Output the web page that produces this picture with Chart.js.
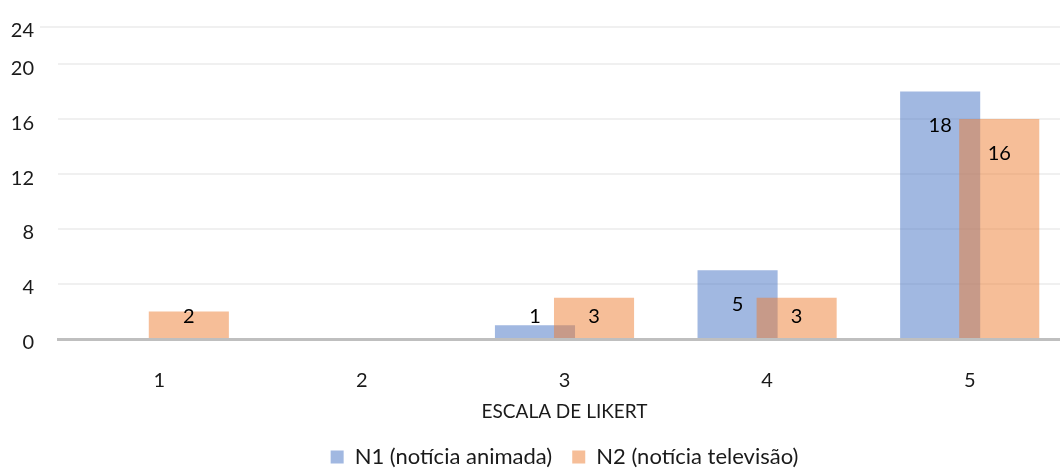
<!DOCTYPE html>
<html>
<head>
<meta charset="utf-8">
<script src="https://cdn.jsdelivr.net/npm/chart.js@4/dist/chart.umd.min.js"></script>
<style>
  html, body { margin: 0; padding: 0; background: #fff; overflow: hidden; }
  /* o original parece recortado à direita e embaixo */
  #wrap { width: 1060px; height: 468px; overflow: hidden; }
</style>
</head>
<body>
<div id="wrap"><canvas id="chart" width="1129" height="478"></canvas></div>
<script>
// dados
const categories = ["1", "2", "3", "4", "5"];
const n1Values = [0, 0, 1, 5, 18];
const n2Values = [2, 0, 3, 3, 16];
const seriesNames = ["N1 (notícia animada)", "N2 (notícia televisão)"];
const yTickLabels = ["0", "4", "8", "12", "16", "20", "24"];
const yAxisMax = 22.7; // o topo do eixo fica abaixo do 24 no original
const xTitle = "ESCALA DE LIKERT";

const FONT = "Lato";
const TEXT = "#1a1a1a";
const GRID = "#f0f0f0";

// Chart.js desenha a primeira série por cima; aqui a N2 precisa ficar por cima
const drawN2Last = {
  id: "drawN2Last",
  beforeDatasetDraw(chart, args) {
    if (args.index === 1 && !chart.$drawingN2) return false;
  },
  afterDatasetsDraw(chart) {
    chart.$drawingN2 = true;
    const { ctx, chartArea } = chart;
    ctx.save();
    ctx.beginPath();
    ctx.rect(chartArea.left, chartArea.top, chartArea.width, chartArea.height);
    ctx.clip();
    chart.getDatasetMeta(1).controller.draw();
    ctx.restore();
    chart.$drawingN2 = false;
  }
};

// rótulos de dados (estilo "extremidade interna" do Excel)
const dataLabels = {
  id: "dataLabels",
  afterDatasetsDraw(chart) {
    const ctx = chart.ctx;
    ctx.save();
    ctx.font = `20px ${FONT}`;
    ctx.fillStyle = "#000";
    ctx.textAlign = "center";
    ctx.textBaseline = "middle";
    chart.data.datasets.forEach((ds, i) => {
      chart.getDatasetMeta(i).data.forEach((bar, j) => {
        const v = ds.data[j];
        if (!v) return;
        const y = Math.min(bar.y + 34, (bar.y + bar.base) / 2, bar.base - 21);
        ctx.fillText(String(v), bar.x, y);
      });
    });
    ctx.restore();
  }
};

// linha de grade do topo começa mais à esquerda
const topLine = {
  id: "topLine",
  beforeDatasetsDraw(chart) {
    const { ctx, chartArea } = chart;
    ctx.save();
    ctx.strokeStyle = GRID;
    ctx.lineWidth = 2;
    ctx.beginPath();
    ctx.moveTo(40, chartArea.top);
    ctx.lineTo(chartArea.left, chartArea.top);
    ctx.stroke();
    ctx.restore();
  }
};

new Chart(document.getElementById("chart"), {
  type: "bar",
  data: {
    labels: categories,
    datasets: [
      {
        label: seriesNames[0],
        data: n1Values,
        backgroundColor: "rgba(68, 114, 196, 0.5)",
        borderWidth: 0
      },
      {
        label: seriesNames[1],
        data: n2Values,
        backgroundColor: "rgba(237, 125, 49, 0.5)",
        borderWidth: 0
      }
    ]
  },
  options: {
    responsive: false,
    animation: false,
    categoryPercentage: 0.583,
    barPercentage: 1.356,
    layout: { padding: { top: 27, right: 58, left: 0, bottom: 0 } },
    plugins: {
      tooltip: { enabled: false },
      legend: {
        position: "bottom",
        fullSize: false, // centraliza a legenda sob a área do gráfico
        labels: {
          color: TEXT,
          font: { family: FONT, size: 22 },
          boxWidth: 13,
          boxHeight: 13,
          padding: 20
        }
      }
    },
    scales: {
      x: {
        afterFit(scale) { scale.height = 87; },
        grid: { display: false, drawTicks: false },
        border: { display: true, color: "#bfbfbf", width: 3 },
        ticks: {
          color: TEXT,
          font: { family: FONT, size: 20 },
          padding: 30
        },
        title: {
          display: true,
          text: xTitle,
          color: TEXT,
          font: { family: FONT, size: 19 },
          padding: { top: 0, bottom: 3 }
        }
      },
      y: {
        min: 0,
        max: yAxisMax,
        afterFit(scale) {
          scale.width = 58;
          scale.paddingTop = 0;
          scale.paddingBottom = 0;
        },
        afterBuildTicks(scale) {
          scale.ticks = yTickLabels.map((t, i) => ({
            value: i === yTickLabels.length - 1 ? yAxisMax : Number(t)
          }));
        },
        border: { display: false },
        grid: { color: GRID, lineWidth: 2, tickLength: 0 },
        ticks: {
          color: TEXT,
          font: { family: FONT, size: 20 },
          padding: 24,
          labelOffset: 4,
          callback: (value, index) => yTickLabels[index]
        }
      }
    }
  },
  plugins: [drawN2Last, dataLabels, topLine]
});
</script>
</body>
</html>
